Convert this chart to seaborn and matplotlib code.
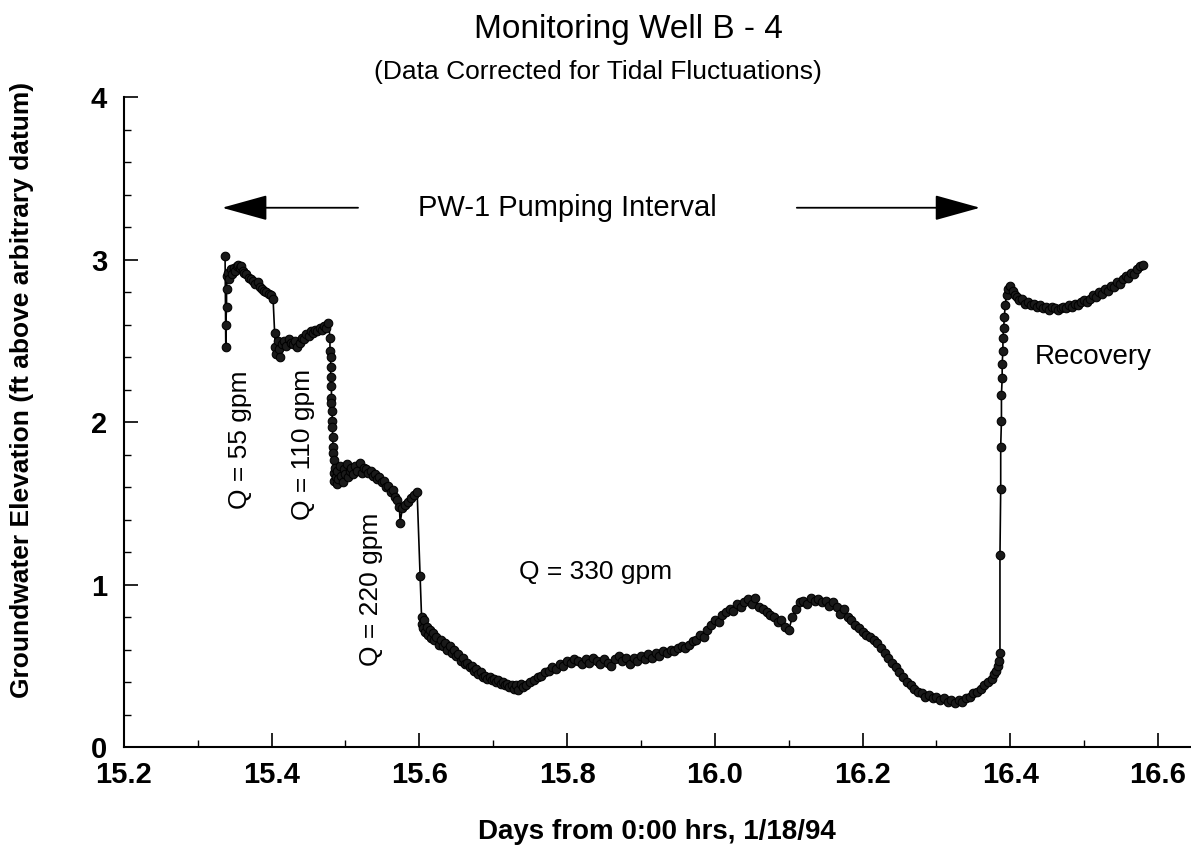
import numpy as np
import pandas as pd
import matplotlib
matplotlib.use("Agg")
import matplotlib.pyplot as plt
import seaborn as sns
from matplotlib.ticker import MultipleLocator

# ---------------- data ----------------
q55_days = [15.337, 15.338, 15.338, 15.339, 15.339, 15.340, 15.341, 15.343, 15.345, 15.347,
            15.349, 15.351, 15.353, 15.355, 15.357, 15.359, 15.361, 15.363, 15.366, 15.369,
            15.372, 15.375, 15.378, 15.381, 15.384, 15.387, 15.390, 15.393, 15.396, 15.399, 15.402]
q55_elev = [3.02, 2.46, 2.60, 2.71, 2.82, 2.90, 2.92, 2.88, 2.94, 2.91,
            2.95, 2.93, 2.96, 2.97, 2.95, 2.96, 2.93, 2.92, 2.91, 2.89,
            2.88, 2.87, 2.85, 2.86, 2.83, 2.82, 2.81, 2.80, 2.79, 2.78, 2.76]

q110_days = [15.404, 15.405, 15.406, 15.408, 15.410, 15.412, 15.414, 15.417, 15.420, 15.423,
             15.426, 15.429, 15.432, 15.435, 15.438, 15.441, 15.444, 15.447, 15.450, 15.453,
             15.456, 15.459, 15.462, 15.465, 15.468, 15.471, 15.474, 15.477]
q110_elev = [2.55, 2.46, 2.42, 2.50, 2.45, 2.40, 2.48, 2.50, 2.47, 2.51,
             2.49, 2.48, 2.50, 2.46, 2.49, 2.52, 2.51, 2.54, 2.53, 2.56,
             2.55, 2.57, 2.56, 2.58, 2.57, 2.59, 2.58, 2.61]

q220_days = [15.479, 15.479, 15.480, 15.480, 15.480, 15.481, 15.481, 15.481, 15.482, 15.482,
             15.482, 15.483, 15.483, 15.483, 15.484, 15.484, 15.485, 15.486, 15.487, 15.488,
             15.489, 15.490, 15.492, 15.494, 15.496, 15.498, 15.500, 15.502, 15.504, 15.506,
             15.508, 15.510, 15.513, 15.516, 15.519, 15.522, 15.525, 15.528, 15.531, 15.534,
             15.537, 15.540, 15.543, 15.546, 15.549, 15.552, 15.555, 15.558, 15.561, 15.564,
             15.567, 15.570, 15.573, 15.574, 15.577, 15.581, 15.585, 15.589, 15.593, 15.597]
q220_elev = [2.52, 2.44, 2.40, 2.34, 2.28, 2.22, 2.15, 2.12, 2.07, 2.01,
             1.97, 1.91, 1.85, 1.81, 1.77, 1.69, 1.64, 1.72, 1.66, 1.62,
             1.70, 1.65, 1.73, 1.67, 1.63, 1.71, 1.68, 1.74, 1.66, 1.70,
             1.72, 1.68, 1.73, 1.70, 1.75, 1.69, 1.72, 1.71, 1.69, 1.70,
             1.67, 1.68, 1.65, 1.66, 1.63, 1.64, 1.60, 1.61, 1.57, 1.58,
             1.54, 1.52, 1.48, 1.38, 1.47, 1.49, 1.51, 1.53, 1.55, 1.57]

q330_days = [15.601, 15.603, 15.604, 15.605, 15.606, 15.608, 15.610, 15.612, 15.614, 15.616,
             15.618, 15.620, 15.623, 15.626, 15.629, 15.632, 15.635, 15.638, 15.641, 15.644,
             15.647, 15.650, 15.653, 15.656, 15.659, 15.662, 15.665, 15.668, 15.671, 15.674,
             15.677, 15.680, 15.683, 15.686, 15.689, 15.692, 15.695, 15.698, 15.701, 15.704,
             15.707, 15.710, 15.713, 15.716, 15.719, 15.722, 15.725, 15.728, 15.731, 15.734,
             15.737, 15.740, 15.745, 15.750, 15.755, 15.760, 15.765, 15.770, 15.775, 15.780,
             15.785, 15.790, 15.795, 15.800, 15.805, 15.810, 15.815, 15.820, 15.825, 15.830,
             15.835, 15.840, 15.845, 15.850, 15.855, 15.860, 15.865, 15.870, 15.875, 15.880,
             15.885, 15.890, 15.895, 15.900, 15.905, 15.910, 15.915, 15.920, 15.925, 15.930,
             15.935, 15.940, 15.945, 15.950, 15.955, 15.960, 15.965, 15.970, 15.975, 15.980,
             15.985, 15.990, 15.995, 16.000, 16.005, 16.010, 16.015, 16.020, 16.025, 16.030,
             16.035, 16.040, 16.045, 16.050, 16.055, 16.060, 16.065, 16.070, 16.075, 16.080,
             16.085, 16.090, 16.095, 16.100, 16.105, 16.110, 16.115, 16.120, 16.125, 16.130,
             16.135, 16.140, 16.145, 16.150, 16.155, 16.160, 16.165, 16.170, 16.175, 16.180,
             16.185, 16.190, 16.195, 16.200, 16.205, 16.210, 16.215, 16.220, 16.225, 16.230,
             16.235, 16.240, 16.245, 16.250, 16.255, 16.260, 16.265, 16.270, 16.275, 16.280,
             16.285, 16.290, 16.295, 16.300, 16.305, 16.310, 16.315, 16.320, 16.325, 16.330,
             16.335, 16.340, 16.345, 16.350, 16.355, 16.360, 16.365, 16.370, 16.375, 16.378,
             16.381, 16.383, 16.385, 16.386]
q330_elev = [1.05, 0.80, 0.76, 0.73, 0.78, 0.71, 0.74, 0.69, 0.72, 0.67,
             0.70, 0.66, 0.68, 0.63, 0.66, 0.62, 0.64, 0.60, 0.62, 0.58,
             0.60, 0.56, 0.57, 0.53, 0.55, 0.51, 0.52, 0.49, 0.50, 0.47,
             0.48, 0.45, 0.46, 0.43, 0.44, 0.42, 0.43, 0.41, 0.42, 0.40,
             0.41, 0.39, 0.40, 0.38, 0.39, 0.37, 0.38, 0.36, 0.38, 0.35,
             0.39, 0.37, 0.38, 0.40, 0.41, 0.43, 0.44, 0.46, 0.47, 0.49,
             0.48, 0.51, 0.50, 0.53, 0.52, 0.54, 0.53, 0.51, 0.54, 0.52,
             0.55, 0.53, 0.51, 0.54, 0.52, 0.50, 0.54, 0.56, 0.53, 0.55,
             0.51, 0.55, 0.53, 0.56, 0.54, 0.57, 0.55, 0.58, 0.56, 0.59,
             0.58, 0.60, 0.59, 0.61, 0.62, 0.61, 0.63, 0.65, 0.66, 0.69,
             0.68, 0.72, 0.75, 0.78, 0.77, 0.81, 0.83, 0.85, 0.84, 0.88,
             0.86, 0.89, 0.91, 0.88, 0.92, 0.86, 0.85, 0.83, 0.81, 0.80,
             0.77, 0.78, 0.74, 0.72, 0.80, 0.85, 0.89, 0.90, 0.88, 0.92,
             0.90, 0.91, 0.89, 0.90, 0.87, 0.89, 0.86, 0.82, 0.85, 0.80,
             0.78, 0.75, 0.73, 0.71, 0.69, 0.68, 0.66, 0.64, 0.61, 0.58,
             0.55, 0.52, 0.49, 0.46, 0.43, 0.40, 0.38, 0.36, 0.34, 0.33,
             0.31, 0.32, 0.30, 0.31, 0.29, 0.30, 0.28, 0.29, 0.27, 0.29,
             0.28, 0.30, 0.31, 0.33, 0.34, 0.36, 0.38, 0.40, 0.42, 0.45,
             0.47, 0.50, 0.53, 0.58]

recovery_days = [16.386, 16.387, 16.387, 16.388, 16.388, 16.389, 16.389, 16.390, 16.390, 16.391,
                 16.392, 16.393, 16.395, 16.397, 16.400, 16.403, 16.406, 16.409, 16.412, 16.416,
                 16.420, 16.424, 16.428, 16.432, 16.436, 16.440, 16.444, 16.448, 16.452, 16.456,
                 16.460, 16.464, 16.468, 16.472, 16.476, 16.480, 16.484, 16.488, 16.492, 16.496,
                 16.500, 16.504, 16.508, 16.512, 16.516, 16.520, 16.524, 16.528, 16.532, 16.536,
                 16.540, 16.544, 16.548, 16.552, 16.556, 16.560, 16.564, 16.568, 16.572, 16.576, 16.580]
recovery_elev = [1.18, 1.59, 1.85, 2.01, 2.17, 2.27, 2.36, 2.44, 2.52, 2.58,
                 2.65, 2.72, 2.78, 2.82, 2.84, 2.81, 2.78, 2.77, 2.75, 2.76,
                 2.73, 2.74, 2.72, 2.73, 2.71, 2.72, 2.70, 2.71, 2.69, 2.71,
                 2.70, 2.69, 2.70, 2.71, 2.70, 2.72, 2.71, 2.73, 2.72, 2.74,
                 2.75, 2.74, 2.76, 2.78, 2.77, 2.80, 2.79, 2.82, 2.81, 2.84,
                 2.83, 2.86, 2.85, 2.88, 2.90, 2.89, 2.92, 2.91, 2.94, 2.96, 2.97]

x_ticks = [15.2, 15.4, 15.6, 15.8, 16.0, 16.2, 16.4, 16.6]
x_tick_labels = ["15.2", "15.4", "15.6", "15.8", "16.0", "16.2", "16.4", "16.6"]
y_ticks = [0, 1, 2, 3, 4]

df = pd.DataFrame({
    "days": q55_days + q110_days + q220_days + q330_days + recovery_days,
    "elev": q55_elev + q110_elev + q220_elev + q330_elev + recovery_elev,
})

# ---------------- style ----------------
sns.set_style("ticks")
FAM = ["Liberation Sans", "DejaVu Sans"]
plt.rcParams["font.family"] = FAM
plt.rcParams["text.color"] = "black"
plt.rcParams["axes.labelcolor"] = "black"

fig = plt.figure(figsize=(11.91, 8.46), dpi=100)
ax = fig.add_axes([0.104, 0.117, 0.895, 0.768])

sns.lineplot(data=df, x="days", y="elev", sort=False, estimator=None,
             color="black", linewidth=1.2, marker="o", markersize=6.2,
             markeredgecolor="black", markerfacecolor="#1a1a1a", ax=ax)

ax.set_xlim(15.2, 16.643)
ax.set_ylim(0, 4)
ax.set_xticks(x_ticks)
ax.set_xticklabels(x_tick_labels)
ax.set_yticks(y_ticks)
ax.xaxis.set_minor_locator(MultipleLocator(0.1))
ax.yaxis.set_minor_locator(MultipleLocator(0.2))
ax.tick_params(axis="both", which="major", direction="in", length=10, width=1.2,
               labelsize=21, colors="black")
ax.tick_params(axis="x", which="major", pad=10)
ax.tick_params(axis="y", which="major", pad=12)
ax.tick_params(axis="both", which="minor", direction="in", length=5, width=1.0,
               colors="black")
for lab in ax.get_xticklabels() + ax.get_yticklabels():
    lab.set_fontweight("bold")
for side in ["top", "right"]:
    ax.spines[side].set_visible(False)
for side in ["left", "bottom"]:
    ax.spines[side].set_linewidth(1.5)
    ax.spines[side].set_color("black")

ax.set_xlabel("Days from 0:00 hrs, 1/18/94", fontsize=20, fontweight="bold",
              color="black", labelpad=22)
ax.set_ylabel("Groundwater Elevation (ft above arbitrary datum)", fontsize=19,
              fontweight="bold", color="black")
ax.yaxis.set_label_coords(-0.084, 0.55)

fig.text(0.528, 0.965, "Monitoring Well B - 4", ha="center", va="center", fontsize=24)
fig.text(0.502, 0.915, "(Data Corrected for Tidal Fluctuations)", ha="center", va="center",
         fontsize=19)

# annotations
arrow_style = "-|>,head_length=1.8,head_width=0.5"
ax.annotate("", xy=(15.333, 3.32), xytext=(15.517, 3.32),
            arrowprops=dict(arrowstyle=arrow_style, color="black", lw=1.3,
                            mutation_scale=16, shrinkA=0, shrinkB=0))
ax.annotate("", xy=(16.359, 3.32), xytext=(16.111, 3.32),
            arrowprops=dict(arrowstyle=arrow_style, color="black", lw=1.3,
                            mutation_scale=16, shrinkA=0, shrinkB=0))
ax.text(15.80, 3.32, "PW-1 Pumping Interval", ha="center", va="center", fontsize=21)
ax.text(16.433, 2.40, "Recovery", ha="left", va="center", fontsize=20)
ax.text(15.357, 1.89, "Q = 55 gpm", rotation=90, ha="center", va="center", fontsize=19)
ax.text(15.442, 1.86, "Q = 110 gpm", rotation=90, ha="center", va="center", fontsize=19)
ax.text(15.534, 0.97, "Q = 220 gpm", rotation=90, ha="center", va="center", fontsize=19)
ax.text(15.838, 1.08, "Q = 330 gpm", ha="center", va="center", fontsize=19)

fig.savefig("out.png", dpi=100)
